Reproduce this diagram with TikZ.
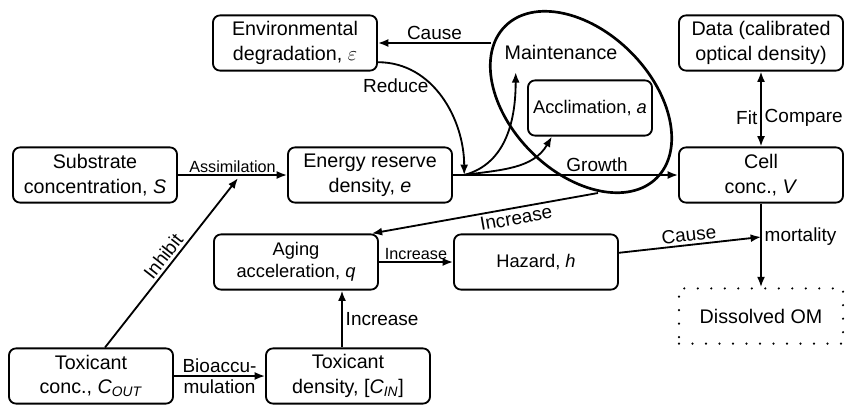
\documentclass[tikz,border=0pt]{standalone}
\usepackage{fontspec}
\setmainfont{Liberation Sans}
\usepackage{tikz}
\usetikzlibrary{arrows.meta, positioning, calc}

\tikzset{
  box/.style={draw, rounded corners=5pt, line width=1.3pt, align=center,
    minimum width=4.1cm, minimum height=1.38cm, inner sep=1pt,
    font=\fontsize{14}{17.5}\selectfont},
  smallbox/.style={box, font=\fontsize{13}{16}\selectfont},
  dotbox/.style={box, rounded corners=0pt, line width=1.7pt, line cap=round,
    dash pattern=on 0pt off 9.6pt},
  lbl/.style={font=\fontsize{13.5}{16}\selectfont, inner sep=2pt},
  slbl/.style={font=\fontsize{11.5}{13}\selectfont, inner sep=1pt},
  link/.style={-{Latex[length=2.6mm,width=2mm]}, line width=1.3pt},
  twolink/.style={{Latex[length=2.6mm,width=2mm]}-{Latex[length=2.6mm,width=2mm]}, line width=1.3pt},
}

\begin{document}
\begin{tikzpicture}[x=0.025cm, y=0.025cm]
\useasboundingbox (0,0) rectangle (847,404);

% Top row
\node[box] (env) at (295,361) {Environmental\\degradation, $\varepsilon$};
\node[box] (data) at (761,361) {Data (calibrated\\optical density)};
\node[font=\fontsize{14}{17.5}\selectfont] (maint) at (561,352) {Maintenance};
\node[smallbox, minimum width=3.1cm] (accl) at (590,296) {Acclimation, \textit{a}};

% Middle row
\node[box] (sub) at (95,229) {Substrate\\concentration, \textit{S}};
\node[box] (energy) at (370,229) {Energy reserve\\density, \textit{e}};
\node[box] (cell) at (761,229) {Cell\\conc., \textit{V}};

% Aging and hazard
\node[smallbox] (aging) at (296,142) {Aging\\acceleration, \textit{q}};
\node[smallbox] (hazard) at (536,142) {Hazard, \textit{h}};
\node[dotbox] (dom) at (761,88) {Dissolved OM};

% Bottom row
\node[box] (tox) at (91,28) {Toxicant\\conc., \textit{C}\textsubscript{\textit{OUT}}};
\node[box] (toxd) at (348,28) {Toxicant\\density, [\textit{C}\textsubscript{\textit{IN}}]};

% Maintenance group
\draw[line width=1.9pt, rotate around={-45:(581,302)}] (581,302) ellipse (2.68cm and 1.76cm);
\coordinate (ellw) at (491,361);
\coordinate (ells) at (598,211);

% Helper points on arrows
\path (sub.east) -- (energy.west) coordinate[pos=0.55] (assim);
\path (energy.east) -- (cell.west) coordinate[pos=0.05] (jn);
\path (cell.south) -- (dom.north) coordinate[pos=0.4] (mort);

% Energy flows
\draw[link] (sub) -- (energy) node[slbl, midway, above] {Assimilation};
\draw[link] (energy) -- (cell) node[lbl, pos=0.64, above] {Growth};
\draw[link] (jn) to[out=15, in=-90] ([xshift=0.4cm, yshift=-0.2cm]maint.south west);
\draw[link] (jn) to[out=8, in=-120] ([xshift=0.62cm]accl.south west);
\draw[link] (ellw) -- (env.east) node[lbl, midway, above] {Cause};
\draw[link] ([yshift=-0.48cm]env.east) to[out=0, in=90] node[lbl, pos=0.4, left] {Reduce} (jn);

% Toxicant effects
\draw[link] ([xshift=0.35cm]tox.north) -- ([yshift=-0.08cm]assim) node[lbl, midway, above, sloped] {Inhibit};
\draw[link] (tox) -- (toxd) node[lbl, midway, above] {Bioaccu-} node[lbl, midway, below] {mulation};
\draw[link] ([xshift=-0.15cm]toxd.north) -- ([xshift=-0.15cm]toxd.north |- aging.south) node[lbl, midway, right] {Increase};

% Aging and mortality
\draw[link] (ells) -- ([xshift=-0.18cm]aging.north east) node[lbl, pos=0.37, below, sloped] {Increase};
\draw[link] (aging) -- (hazard) node[slbl, midway, above] {Increase};
\draw[link] (hazard) -- (mort) node[lbl, midway, above, sloped] {Cause};
\draw[link] (cell) -- (dom) node[lbl, pos=0.4, right] {mortality};

% Data
\draw[twolink] (data) -- (cell) node[lbl, pos=0.62, left] {Fit} node[lbl, pos=0.62, right] {Compare};
\end{tikzpicture}
\end{document}
